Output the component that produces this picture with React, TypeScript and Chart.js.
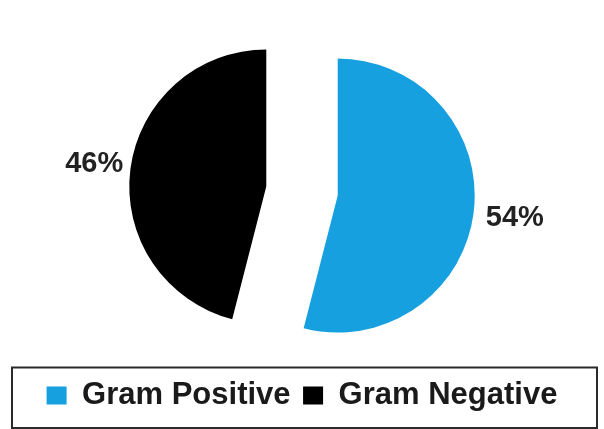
import React, { useEffect, useRef } from "react";
import { Chart, registerables } from "chart.js";

Chart.register(...registerables);

const categories = ["Gram Positive", "Gram Negative"];
const values = [54, 46];
const colors = ["#17A0E0", "#000000"];
// explode distance (px) for each slice
const explode = [36, 36];

const FONT = "'Liberation Sans', Arial, Helvetica, sans-serif";
const LABEL_DIST = 212;

// draws each arc moved out along its bisector (exploded pie)
const explodePlugin = {
  id: "explode",
  beforeDatasetDraw(chart: any, args: any) {
    const ctx = chart.ctx;
    const meta = args.meta;
    meta.data.forEach((arc: any, i: number) => {
      const mid = (arc.startAngle + arc.endAngle) / 2;
      const d = explode[i] || 0;
      ctx.save();
      ctx.translate(Math.cos(mid) * d, Math.sin(mid) * d);
      arc.draw(ctx, chart.chartArea);
      ctx.restore();
    });
    return false;
  },
};

const pieLabelPlugin = {
  id: "pieLabels",
  afterDatasetsDraw(chart: any) {
    const ctx = chart.ctx;
    const meta = chart.getDatasetMeta(0);
    const ds = chart.data.datasets[0];
    ctx.save();
    ctx.font = `bold 29px ${FONT}`;
    ctx.fillStyle = "#222222";
    ctx.textAlign = "center";
    ctx.textBaseline = "middle";
    meta.data.forEach((arc: any, i: number) => {
      const { x, y, startAngle, endAngle } = arc.getProps(["x", "y", "startAngle", "endAngle"], true);
      const mid = (startAngle + endAngle) / 2;
      ctx.fillText(`${ds.data[i]}%`, x + 2.5 + Math.cos(mid) * LABEL_DIST, y + Math.sin(mid) * LABEL_DIST);
    });
    ctx.restore();
  },
};

const legendBorderPlugin = {
  id: "legendBorder",
  afterDraw(chart: any) {
    const lg = chart.legend;
    if (!lg) return;
    const ctx = chart.ctx;
    ctx.save();
    ctx.strokeStyle = "#2a2a2a";
    ctx.lineWidth = 2;
    ctx.strokeRect(lg.left + 12, lg.top, lg.width - 19, lg.bottom + 7 - lg.top);
    ctx.restore();
  },
};

export default function App() {
  const ref = useRef<HTMLCanvasElement | null>(null);
  useEffect(() => {
    if (!ref.current) return;
    const chart = new Chart(ref.current, {
      type: "pie",
      data: {
        labels: categories,
        datasets: [
          {
            data: values,
            backgroundColor: colors,
            borderWidth: 0,
            radius: 137,
          } as any,
        ],
      },
      options: {
        animation: false,
        responsive: true,
        maintainAspectRatio: false,
        layout: { padding: { top: 14.5, bottom: 8, left: 0, right: 0 } },
        plugins: {
          tooltip: { enabled: false },
          legend: {
            position: "bottom",
            labels: {
              boxWidth: 20,
              boxHeight: 18,
              padding: 12.5,
              color: "#1a1a1a",
              font: { family: FONT, size: 31, weight: "bold" },
            },
          },
        },
      },
      plugins: [explodePlugin, pieLabelPlugin, legendBorderPlugin],
    });
    return () => chart.destroy();
  }, []);
  return (
    <div style={{ position: "fixed", left: 0, top: 0, width: 604, height: 429, background: "#fff" }}>
      <canvas ref={ref} />
    </div>
  );
}
